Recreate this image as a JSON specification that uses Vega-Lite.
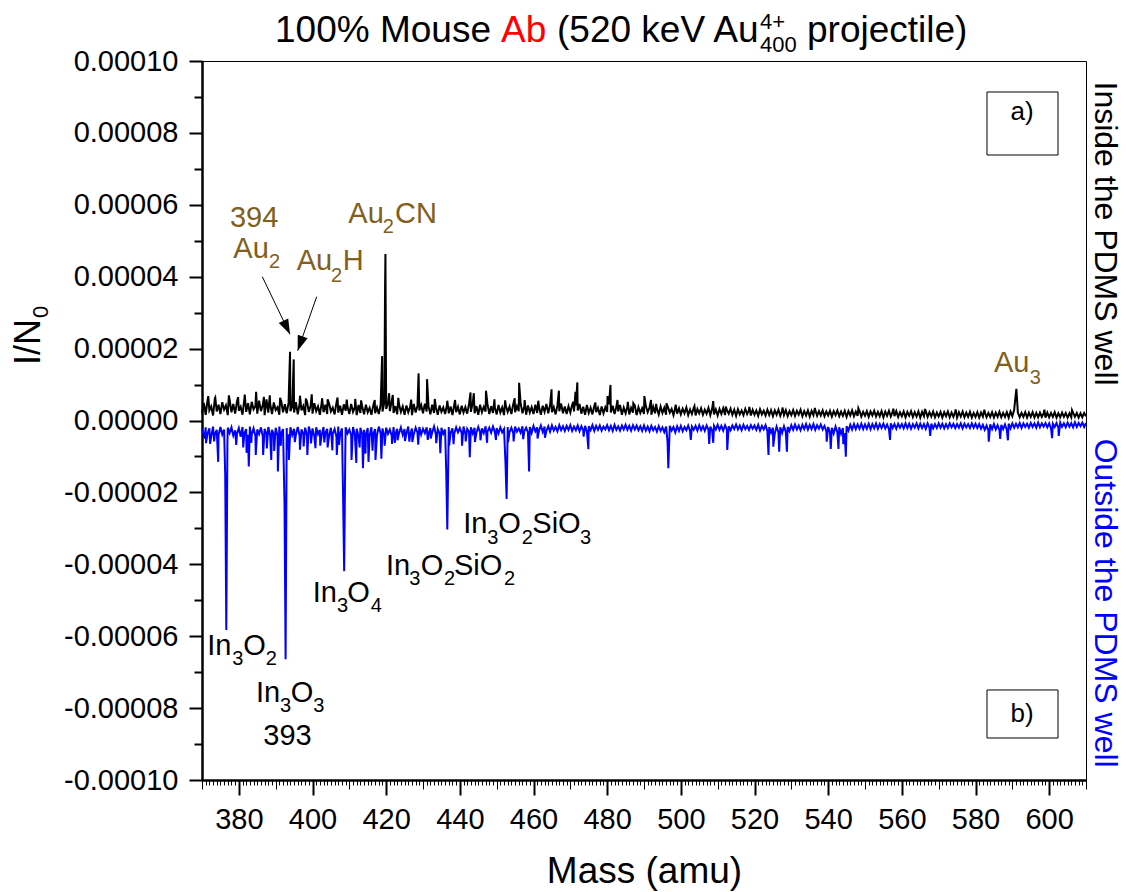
{
"$schema":"https://vega.github.io/schema/vega-lite/v6.json",
"width":884,"height":719,
"autosize":{"type":"none"},
"padding":{"left":202,"top":61,"right":40,"bottom":112},
"background":"white",
"config":{"view":{"stroke":"#000000","strokeWidth":1},"axis":{"grid":false,"domainColor":"#000000","tickColor":"#000000","labelColor":"#000000","titleColor":"#000000","labelFont":"Liberation Sans","titleFont":"Liberation Sans","titleFontWeight":"normal"},"text":{"font":"Liberation Sans"}},
"resolve":{"axis":{"x":"independent","y":"independent"}},
"datasets":{
"sp":[
{"m":370,"a":2.2e-6,"b":-2.4e-6},{"m":370.5,"a":4.9e-6,"b":-4.1e-6},{"m":371,"a":1.6e-6,"b":-1.9e-6},{"m":371.5,"a":5.6e-6,"b":-3.6e-6},{"m":372,"a":2.8e-6,"b":-2.2e-6},{"m":372.5,"a":3.9e-6,"b":-4.4e-6},{"m":373,"a":1.4e-6,"b":-1.7e-6},{"m":373.5,"a":6.2e-6,"b":-3.8e-6},{"m":374,"a":2.5e-6,"b":-2.6e-6},{"m":374.5,"a":4.4e-6,"b":-4e-6},
{"m":375,"a":1.8e-6,"b":-1.8e-6},{"m":375.5,"a":5.1e-6,"b":-3.9e-6},{"m":376,"a":3e-6,"b":-2.5e-6},{"m":376.5,"a":4.2e-6},{"m":377,"a":1.5e-6,"b":-2e-6},{"m":377.5,"a":5.7e-6,"b":-3.5e-6},{"m":378,"a":2.3e-6,"b":-1.9e-6},{"m":378.5,"a":4.6e-6,"b":-4.2e-6},{"m":379,"a":1.9e-6,"b":-2.7e-6},{"m":379.5,"a":5.3e-6,"b":-3.7e-6},
{"m":380,"a":2.7e-6,"b":-2.1e-6},{"m":380.5,"a":3.8e-6,"b":-4.5e-6},{"m":381,"a":1.6e-6,"b":-1.8e-6},{"m":381.5,"a":6e-6,"b":-3.6e-6},{"m":382,"a":2.4e-6,"b":-2.4e-6},{"m":382.5,"a":4.8e-6,"b":-4e-6},{"m":383,"a":1.7e-6,"b":-1.7e-6},{"m":383.5,"a":5.2e-6,"b":-3.9e-6},{"m":384,"a":3.1e-6,"b":-2.2e-6},{"m":384.5,"a":4e-6,"b":-4.3e-6},
{"m":385,"a":1.9e-6,"b":-2.5e-6},{"m":385.5,"a":5.5e-6,"b":-3.8e-6},{"m":386,"a":2.6e-6,"b":-1.9e-6},{"m":386.5,"a":4.3e-6,"b":-4.4e-6},{"m":387,"a":1.5e-6,"b":-2.3e-6},{"m":387.5,"a":5.9e-6,"b":-3.7e-6},{"m":388,"a":2.2e-6,"b":-1.8e-6},{"m":388.5,"a":4.7e-6,"b":-4.1e-6},{"m":389,"a":1.8e-6,"b":-2.6e-6},{"m":389.5,"a":5e-6,"b":-3.9e-6},
{"m":390,"a":2.9e-6,"b":-2e-6},{"m":390.5,"a":3.7e-6,"b":-4.2e-6},{"m":391,"a":1.6e-6,"b":-1.7e-6},{"m":391.5,"a":5.4e-6,"b":-3.6e-6},{"m":392,"a":2.3e-6,"b":-2.4e-6},{"m":392.5,"a":4.5e-6},{"m":393,"a":2e-6,"b":-2.1e-6},{"m":393.5,"a":4.9e-6,"b":-3.8e-6},{"m":394,"a":2.6e-6,"b":-1.9e-6},{"m":394.5,"a":3.8e-6,"b":-4e-6},
{"m":395,"a":2.2e-6,"b":-2.3e-6},{"m":395.5,"a":5.1e-6,"b":-3.9e-6},{"m":396,"a":1.7e-6,"b":-1.8e-6},{"m":396.5,"a":4.6e-6,"b":-4.3e-6},{"m":397,"a":2.8e-6,"b":-2.5e-6},{"m":397.5,"a":4e-6,"b":-3.7e-6},{"m":398,"a":1.5e-6,"b":-2e-6},{"m":398.5,"a":5.3e-6,"b":-4.1e-6},{"m":399,"a":2.4e-6,"b":-1.7e-6},{"m":399.5,"a":4.2e-6,"b":-3.6e-6},
{"m":400,"a":1.9e-6,"b":-2.2e-6},{"m":400.5,"a":4.8e-6,"b":-4.4e-6},{"m":401,"a":2.6e-6,"b":-1.9e-6},{"m":401.5,"a":3.9e-6,"b":-3.8e-6},{"m":402,"a":1.6e-6,"b":-2.6e-6},{"m":402.5,"a":5e-6,"b":-4e-6},{"m":403,"a":2.3e-6,"b":-1.8e-6},{"m":403.5,"a":4.4e-6,"b":-3.5e-6},{"m":404,"a":1.8e-6,"b":-2.3e-6},{"m":404.5,"a":4.7e-6,"b":-4.2e-6},
{"m":405,"a":2.5e-6,"b":-2e-6},{"m":405.5,"a":3.6e-6,"b":-3.7e-6},{"m":406,"a":1.7e-6,"b":-2.4e-6},{"m":406.5,"a":4.9e-6,"b":-4.5e-6},{"m":407,"a":2.2e-6,"b":-1.7e-6},{"m":407.5,"a":4.1e-6,"b":-3.9e-6},{"m":408,"a":1.6e-6,"b":-2.2e-6},{"m":408.5,"a":4.5e-6},{"m":409,"a":2.7e-6,"b":-1.9e-6},{"m":409.5,"a":3.8e-6,"b":-3.6e-6},
{"m":410,"a":1.8e-6,"b":-2.5e-6},{"m":410.5,"a":4.6e-6,"b":-4.1e-6},{"m":411,"a":2.4e-6,"b":-1.8e-6},{"m":411.5,"a":3.7e-6,"b":-3.9e-6},{"m":412,"a":1.5e-6,"b":-2.3e-6},{"m":412.5,"a":4.3e-6,"b":-4.4e-6},{"m":413,"a":2.1e-6,"b":-2e-6},{"m":413.5,"a":3.9e-6,"b":-3.7e-6},{"m":414,"a":1.7e-6,"b":-2.6e-6},{"m":414.5,"a":4.4e-6,"b":-4e-6},
{"m":415,"a":2.3e-6,"b":-2.1e-6},{"m":415.5,"a":3.5e-6,"b":-4.3e-6},{"m":416,"a":1.6e-6,"b":-1.9e-6},{"m":416.5,"a":4.2e-6,"b":-3.8e-6},{"m":417,"a":2e-6,"b":-2.4e-6},{"m":417.5,"a":3.6e-6,"b":-4.1e-6},{"m":418,"a":1.8e-6,"b":-1.7e-6},{"m":418.5,"a":4.4e-6,"b":-3.6e-6},{"m":419,"a":2.5e-6,"b":-2.2e-6},{"m":419.5,"a":5e-6,"b":-4.4e-6},
{"m":420,"a":3.2e-6,"b":-2e-6},{"m":420.5,"a":4.8e-6,"b":-3.7e-6},{"m":421,"a":2.6e-6,"b":-2.5e-6},{"m":421.5,"a":5.3e-6,"b":-4.2e-6},{"m":422,"a":2.1e-6,"b":-1.8e-6},{"m":422.5,"a":4e-6,"b":-3.9e-6},{"m":423,"a":1.7e-6,"b":-2.3e-6},{"m":423.5,"a":4.5e-6,"b":-3.5e-6},{"m":424,"a":2.4e-6,"b":-1.9e-6},{"m":424.5,"a":3.9e-6,"b":-4e-6},
{"m":425,"a":1.6e-6,"b":-2.4e-6},{"m":425.5,"a":4.2e-6,"b":-3.6e-6},{"m":426,"a":2.3e-6,"b":-1.7e-6},{"m":426.5,"a":3.8e-6,"b":-4.1e-6},{"m":427,"a":1.5e-6,"b":-2.2e-6},{"m":427.5,"a":4.6e-6,"b":-3.8e-6},{"m":428,"a":2.2e-6,"b":-2e-6},{"m":428.5,"a":4.1e-6,"b":-3.4e-6},{"m":429,"a":2.8e-6,"b":-1.8e-6},{"m":429.5,"a":4.3e-6,"b":-3.9e-6},
{"m":430,"a":2e-6,"b":-2.3e-6},{"m":430.5,"a":4.7e-6,"b":-3.5e-6},{"m":431,"a":2.5e-6,"b":-1.9e-6},{"m":431.5,"a":3.9e-6,"b":-3.8e-6},{"m":432,"a":1.7e-6,"b":-2.1e-6},{"m":432.5,"a":4.4e-6,"b":-3.3e-6},{"m":433,"a":2.1e-6,"b":-1.7e-6},{"m":433.5,"a":3.7e-6,"b":-3.9e-6},{"m":434,"a":1.6e-6,"b":-2.4e-6},{"m":434.5,"a":4.2e-6,"b":-3.6e-6},
{"m":435,"a":2.4e-6,"b":-2e-6},{"m":435.5,"a":3.6e-6,"b":-3.7e-6},{"m":436,"a":1.8e-6,"b":-2.5e-6},{"m":436.5,"a":4.3e-6},{"m":437,"a":2e-6,"b":-1.8e-6},{"m":437.5,"a":3.9e-6,"b":-3.4e-6},{"m":438,"a":1.5e-6,"b":-2.2e-6},{"m":438.5,"a":4.5e-6,"b":-3.6e-6},{"m":439,"a":2.3e-6,"b":-1.9e-6},{"m":439.5,"a":3.8e-6,"b":-3.3e-6},
{"m":440,"a":1.7e-6,"b":-2.1e-6},{"m":440.5,"a":4.1e-6,"b":-3.5e-6},{"m":441,"a":2.2e-6,"b":-1.7e-6},{"m":441.5,"a":3.7e-6,"b":-3.7e-6},{"m":442,"a":1.9e-6,"b":-2.3e-6},{"m":442.5,"a":4.6e-6,"b":-3.2e-6},{"m":443,"a":2.4e-6,"b":-1.9e-6},{"m":443.5,"a":4.9e-6,"b":-3.6e-6},{"m":444,"a":2e-6,"b":-2e-6},{"m":444.5,"a":4e-6,"b":-3.4e-6},
{"m":445,"a":1.6e-6,"b":-1.8e-6},{"m":445.5,"a":4.4e-6,"b":-3.3e-6},{"m":446,"a":2.3e-6,"b":-2.2e-6},{"m":446.5,"a":3.8e-6,"b":-3.5e-6},{"m":447,"a":2.5e-6,"b":-1.6e-6},{"m":447.5,"a":4.6e-6,"b":-3.1e-6},{"m":448,"a":1.8e-6,"b":-2e-6},{"m":448.5,"a":4e-6,"b":-3.4e-6},{"m":449,"a":2.1e-6,"b":-1.7e-6},{"m":449.5,"a":3.7e-6,"b":-3.2e-6},
{"m":450,"a":1.7e-6,"b":-2.1e-6},{"m":450.5,"a":4.3e-6,"b":-3.6e-6},{"m":451,"a":2.2e-6,"b":-1.9e-6},{"m":451.5,"a":3.6e-6,"b":-3.3e-6},{"m":452,"a":1.5e-6,"b":-2.4e-6},{"m":452.5,"a":4.1e-6},{"m":453,"a":2.4e-6,"b":-1.8e-6},{"m":453.5,"a":3.9e-6,"b":-3.2e-6},{"m":454,"a":1.8e-6,"b":-2e-6},{"m":454.5,"a":4.5e-6,"b":-3.5e-6},
{"m":455,"a":2.3e-6,"b":-1.7e-6},{"m":455.5,"a":4e-6,"b":-3.1e-6},{"m":456,"a":2.6e-6,"b":-2.2e-6},{"m":456.5,"a":4.8e-6,"b":-3.4e-6},{"m":457,"a":2e-6,"b":-1.6e-6},{"m":457.5,"a":3.9e-6,"b":-3e-6},{"m":458,"a":1.6e-6,"b":-2e-6},{"m":458.5,"a":4.2e-6,"b":-3.3e-6},{"m":459,"a":2.2e-6,"b":-1.8e-6},{"m":459.5,"a":3.7e-6,"b":-3.5e-6},
{"m":460,"a":1.8e-6,"b":-1.5e-6},{"m":460.5,"a":4.4e-6,"b":-3e-6},{"m":461,"a":2.1e-6,"b":-1.9e-6},{"m":461.5,"a":3.8e-6,"b":-2.8e-6},{"m":462,"a":1.6e-6,"b":-1.4e-6},{"m":462.5,"a":4.1e-6,"b":-3.2e-6},{"m":463,"a":2.4e-6,"b":-1.7e-6},{"m":463.5,"a":4.6e-6,"b":-2.9e-6},{"m":464,"a":2e-6,"b":-1.6e-6},{"m":464.5,"a":4.3e-6,"b":-3.1e-6},
{"m":465,"a":2.3e-6,"b":-1.4e-6},{"m":465.5,"a":3.7e-6,"b":-2.8e-6},{"m":466,"a":1.7e-6,"b":-1.8e-6},{"m":466.5,"a":4.2e-6,"b":-3e-6},{"m":467,"a":2.6e-6,"b":-1.3e-6},{"m":467.5,"a":4.7e-6,"b":-2.7e-6},{"m":468,"a":2e-6,"b":-1.6e-6},{"m":468.5,"a":3.9e-6,"b":-2.9e-6},{"m":469,"a":1.8e-6,"b":-1.5e-6},{"m":469.5,"a":4e-6,"b":-2.6e-6},
{"m":470,"a":2.2e-6,"b":-1.3e-6},{"m":470.5,"a":4.4e-6,"b":-2.9e-6},{"m":471,"a":2.5e-6,"b":-1.7e-6},{"m":471.5,"a":4.1e-6,"b":-2.7e-6},{"m":472,"a":2.8e-6,"b":-1.4e-6},{"m":472.5,"a":4.6e-6,"b":-3e-6},{"m":473,"a":1.9e-6,"b":-1.6e-6},{"m":473.5,"a":3.8e-6,"b":-2.8e-6},{"m":474,"a":1.6e-6,"b":-1.5e-6},{"m":474.5,"a":4.3e-6,"b":-3.1e-6},
{"m":475,"a":2.1e-6,"b":-1.6e-6},{"m":475.5,"a":3.6e-6,"b":-2.7e-6},{"m":476,"a":1.7e-6,"b":-1.3e-6},{"m":476.5,"a":4e-6,"b":-2.9e-6},{"m":477,"a":2.3e-6,"b":-1.5e-6},{"m":477.5,"a":3.5e-6,"b":-2.6e-6},{"m":478,"a":1.5e-6,"b":-1.4e-6},{"m":478.5,"a":3.9e-6,"b":-2.8e-6},{"m":479,"a":2e-6,"b":-1.7e-6},{"m":479.5,"a":3.7e-6,"b":-2.5e-6},
{"m":480,"a":2.4e-6,"b":-1.3e-6},{"m":480.5,"a":4.5e-6,"b":-2.7e-6},{"m":481,"a":2.2e-6,"b":-1.5e-6},{"m":481.5,"a":4.1e-6,"b":-2.9e-6},{"m":482,"a":1.8e-6,"b":-1.2e-6},{"m":482.5,"a":3.8e-6,"b":-2.6e-6},{"m":483,"a":2.5e-6,"b":-1.6e-6},{"m":483.5,"a":4.3e-6,"b":-2.8e-6},{"m":484,"a":1.6e-6,"b":-1.4e-6},{"m":484.5,"a":3.6e-6,"b":-2.5e-6},
{"m":485,"a":2e-6,"b":-1.2e-6},{"m":485.5,"a":3.9e-6,"b":-2.6e-6},{"m":486,"a":1.7e-6,"b":-1.5e-6},{"m":486.5,"a":3.5e-6,"b":-2.8e-6},{"m":487,"a":2.2e-6,"b":-1.3e-6},{"m":487.5,"a":4.2e-6,"b":-2.5e-6},{"m":488,"a":1.5e-6,"b":-1.4e-6},{"m":488.5,"a":3.7e-6,"b":-2.7e-6},{"m":489,"a":2.1e-6,"b":-1.6e-6},{"m":489.5,"a":3.4e-6,"b":-2.9e-6},
{"m":490,"a":1.8e-6,"b":-1.4e-6},{"m":490.5,"a":4e-6,"b":-2.8e-6},{"m":491,"a":2.3e-6,"b":-1.7e-6},{"m":491.5,"a":3.6e-6,"b":-3e-6},{"m":492,"a":1.6e-6,"b":-1.5e-6},{"m":492.5,"a":3.8e-6,"b":-2.7e-6},{"m":493,"a":2e-6,"b":-1.8e-6},{"m":493.5,"a":3.3e-6,"b":-3.1e-6},{"m":494,"a":1.7e-6,"b":-1.6e-6},{"m":494.5,"a":3.9e-6,"b":-2.9e-6},
{"m":495,"a":2.1e-6,"b":-1.9e-6},{"m":495.5,"a":3.5e-6,"b":-3.2e-6},{"m":496,"a":1.6e-6,"b":-1.7e-6},{"m":496.5,"a":3.7e-6},{"m":497,"a":2.2e-6,"b":-1.5e-6},{"m":497.5,"a":3.2e-6,"b":-2.8e-6},{"m":498,"a":1.5e-6,"b":-1.8e-6},{"m":498.5,"a":3.6e-6,"b":-3.3e-6},{"m":499,"a":1.9e-6,"b":-1.6e-6},{"m":499.5,"a":3.4e-6,"b":-2.9e-6},
{"m":500,"a":1.7e-6,"b":-1.5e-6},{"m":500.5,"a":3.3e-6,"b":-3e-6},{"m":501,"a":2e-6,"b":-1.8e-6},{"m":501.5,"a":3.6e-6,"b":-2.7e-6},{"m":502,"a":1.5e-6,"b":-1.4e-6},{"m":502.5,"a":3.1e-6,"b":-2.9e-6},{"m":503,"a":1.8e-6,"b":-1.7e-6},{"m":503.5,"a":3.5e-6,"b":-2.6e-6},{"m":504,"a":1.4e-6,"b":-1.5e-6},{"m":504.5,"a":3.2e-6,"b":-2.8e-6},
{"m":505,"a":2e-6,"b":-1.3e-6},{"m":505.5,"a":3.4e-6,"b":-2.7e-6},{"m":506,"a":1.6e-6,"b":-1.6e-6},{"m":506.5,"a":3e-6,"b":-2.9e-6},{"m":507,"a":1.9e-6,"b":-1.4e-6},{"m":507.5,"a":3.5e-6,"b":-2.6e-6},{"m":508,"a":1.5e-6,"b":-1.7e-6},{"m":508.5,"a":3.3e-6,"b":-2.8e-6},{"m":509,"a":1.7e-6,"b":-1.5e-6},{"m":509.5,"a":3.1e-6,"b":-2.5e-6},
{"m":510,"a":1.4e-6,"b":-1.2e-6},{"m":510.5,"a":3.2e-6,"b":-2.6e-6},{"m":511,"a":1.8e-6,"b":-1.5e-6},{"m":511.5,"a":3.4e-6,"b":-2.8e-6},{"m":512,"a":1.5e-6,"b":-1.3e-6},{"m":512.5,"a":2.9e-6,"b":-2.5e-6},{"m":513,"a":1.9e-6,"b":-1.6e-6},{"m":513.5,"a":3.3e-6,"b":-2.7e-6},{"m":514,"a":1.6e-6,"b":-1.4e-6},{"m":514.5,"a":3e-6,"b":-2.4e-6},
{"m":515,"a":1.3e-6,"b":-1.1e-6},{"m":515.5,"a":3.1e-6,"b":-2.5e-6},{"m":516,"a":1.7e-6,"b":-1.4e-6},{"m":516.5,"a":2.8e-6,"b":-2.7e-6},{"m":517,"a":1.5e-6,"b":-1.2e-6},{"m":517.5,"a":3.2e-6,"b":-2.4e-6},{"m":518,"a":1.8e-6,"b":-1.5e-6},{"m":518.5,"a":2.9e-6,"b":-2.6e-6},{"m":519,"a":1.4e-6,"b":-1.3e-6},{"m":519.5,"a":3e-6,"b":-2.3e-6},
{"m":520,"a":1.6e-6,"b":-1.4e-6},{"m":520.5,"a":2.8e-6,"b":-2.6e-6},{"m":521,"a":1.3e-6,"b":-1.2e-6},{"m":521.5,"a":3.1e-6,"b":-2.8e-6},{"m":522,"a":1.7e-6,"b":-1.5e-6},{"m":522.5,"a":2.7e-6,"b":-2.5e-6},{"m":523,"a":1.4e-6,"b":-1.3e-6},{"m":523.5,"a":3e-6,"b":-3e-6},{"m":524,"a":1.5e-6,"b":-1.8e-6},{"m":524.5,"a":2.9e-6,"b":-3.4e-6},
{"m":525,"a":1.2e-6,"b":-2e-6},{"m":525.5,"a":2.8e-6,"b":-3.6e-6},{"m":526,"a":1.6e-6,"b":-1.7e-6},{"m":526.5,"a":3e-6,"b":-3.3e-6},{"m":527,"a":1.3e-6,"b":-1.9e-6},{"m":527.5,"a":2.7e-6,"b":-3.5e-6},{"m":528,"a":1.5e-6,"b":-1.6e-6},{"m":528.5,"a":2.9e-6,"b":-3.2e-6},{"m":529,"a":1.2e-6,"b":-1.8e-6},{"m":529.5,"a":2.6e-6,"b":-2.9e-6},
{"m":530,"a":1.5e-6,"b":-1.3e-6},{"m":530.5,"a":2.9e-6,"b":-2.6e-6},{"m":531,"a":1.3e-6,"b":-1.1e-6},{"m":531.5,"a":2.7e-6,"b":-2.5e-6},{"m":532,"a":1.6e-6,"b":-1.4e-6},{"m":532.5,"a":3e-6,"b":-2.7e-6},{"m":533,"a":1.2e-6,"b":-1.2e-6},{"m":533.5,"a":2.6e-6,"b":-2.4e-6},{"m":534,"a":1.4e-6,"b":-1e-6},{"m":534.5,"a":2.8e-6,"b":-2.5e-6},
{"m":535,"a":1.1e-6,"b":-1.2e-6},{"m":535.5,"a":2.7e-6,"b":-2.4e-6},{"m":536,"a":1.5e-6,"b":-1e-6},{"m":536.5,"a":2.9e-6,"b":-2.6e-6},{"m":537,"a":1.3e-6,"b":-1.3e-6},{"m":537.5,"a":2.6e-6,"b":-2.3e-6},{"m":538,"a":1.4e-6,"b":-1.1e-6},{"m":538.5,"a":2.8e-6,"b":-2.5e-6},{"m":539,"a":1.2e-6,"b":-1.5e-6},{"m":539.5,"a":2.5e-6,"b":-2.9e-6},
{"m":540,"a":1.4e-6,"b":-1.8e-6},{"m":540.5,"a":2.7e-6,"b":-3.4e-6},{"m":541,"a":1.1e-6,"b":-2e-6},{"m":541.5,"a":2.6e-6,"b":-3.6e-6},{"m":542,"a":1.5e-6,"b":-1.7e-6},{"m":542.5,"a":2.8e-6,"b":-3.3e-6},{"m":543,"a":1.2e-6,"b":-1.9e-6},{"m":543.5,"a":2.5e-6,"b":-3.7e-6},{"m":544,"a":1.3e-6,"b":-2.1e-6},{"m":544.5,"a":2.7e-6,"b":-3.5e-6},
{"m":545,"a":1e-6,"b":-1.6e-6},{"m":545.5,"a":2.6e-6,"b":-2.8e-6},{"m":546,"a":1.4e-6,"b":-1.2e-6},{"m":546.5,"a":2.8e-6,"b":-2.5e-6},{"m":547,"a":1.2e-6,"b":-1e-6},{"m":547.5,"a":2.5e-6,"b":-2.4e-6},{"m":548,"a":1.3e-6,"b":-1.1e-6},{"m":548.5,"a":2.7e-6,"b":-2.3e-6},{"m":549,"a":1.1e-6,"b":-0.9e-6},{"m":549.5,"a":2.4e-6,"b":-2.4e-6},
{"m":550,"a":1.3e-6,"b":-1.1e-6},{"m":550.5,"a":2.6e-6,"b":-2.3e-6},{"m":551,"a":1e-6,"b":-0.9e-6},{"m":551.5,"a":2.5e-6,"b":-2.4e-6},{"m":552,"a":1.4e-6,"b":-1e-6},{"m":552.5,"a":2.7e-6,"b":-2.2e-6},{"m":553,"a":1.1e-6,"b":-0.8e-6},{"m":553.5,"a":2.4e-6,"b":-2.3e-6},{"m":554,"a":1.2e-6,"b":-1e-6},{"m":554.5,"a":2.6e-6,"b":-2.1e-6},
{"m":555,"a":0.9e-6,"b":-0.9e-6},{"m":555.5,"a":2.5e-6,"b":-2.2e-6},{"m":556,"a":1.3e-6,"b":-1.1e-6},{"m":556.5,"a":2.7e-6,"b":-2.4e-6},{"m":557,"a":1.1e-6,"b":-0.8e-6},{"m":557.5,"a":2.4e-6,"b":-2.1e-6},{"m":558,"a":1.2e-6,"b":-1e-6},{"m":558.5,"a":2.6e-6,"b":-2.3e-6},{"m":559,"a":1e-6,"b":-0.9e-6},{"m":559.5,"a":2.3e-6,"b":-2e-6},
{"m":560,"a":1.2e-6,"b":-1e-6},{"m":560.5,"a":2.5e-6,"b":-2.2e-6},{"m":561,"a":0.9e-6,"b":-0.8e-6},{"m":561.5,"a":2.4e-6,"b":-2.1e-6},{"m":562,"a":1.3e-6,"b":-0.9e-6},{"m":562.5,"a":2.6e-6,"b":-2.3e-6},{"m":563,"a":1e-6,"b":-1e-6},{"m":563.5,"a":2.3e-6,"b":-2e-6},{"m":564,"a":1.1e-6,"b":-0.8e-6},{"m":564.5,"a":2.5e-6,"b":-2.2e-6},
{"m":565,"a":0.8e-6,"b":-0.9e-6},{"m":565.5,"a":2.4e-6,"b":-2.1e-6},{"m":566,"a":1.2e-6,"b":-1e-6},{"m":566.5,"a":2.6e-6,"b":-2.3e-6},{"m":567,"a":1e-6,"b":-0.8e-6},{"m":567.5,"a":2.3e-6,"b":-2e-6},{"m":568,"a":1.1e-6,"b":-0.9e-6},{"m":568.5,"a":2.5e-6,"b":-2.2e-6},{"m":569,"a":0.9e-6,"b":-1e-6},{"m":569.5,"a":2.2e-6,"b":-2.1e-6},
{"m":570,"a":1.1e-6,"b":-0.8e-6},{"m":570.5,"a":2.4e-6,"b":-2e-6},{"m":571,"a":0.8e-6,"b":-0.9e-6},{"m":571.5,"a":2.3e-6,"b":-2.2e-6},{"m":572,"a":1.2e-6,"b":-1e-6},{"m":572.5,"a":2.5e-6,"b":-2.1e-6},{"m":573,"a":0.9e-6,"b":-0.8e-6},{"m":573.5,"a":2.2e-6,"b":-1.9e-6},{"m":574,"a":1e-6,"b":-0.9e-6},{"m":574.5,"a":2.4e-6,"b":-2.1e-6},
{"m":575,"a":0.8e-6,"b":-1e-6},{"m":575.5,"a":2.3e-6,"b":-2e-6},{"m":576,"a":1.1e-6,"b":-0.8e-6},{"m":576.5,"a":2.5e-6,"b":-2.2e-6},{"m":577,"a":0.9e-6,"b":-0.9e-6},{"m":577.5,"a":2.2e-6,"b":-1.9e-6},{"m":578,"a":1e-6,"b":-1e-6},{"m":578.5,"a":2.4e-6,"b":-2.1e-6},{"m":579,"a":0.8e-6,"b":-0.8e-6},{"m":579.5,"a":2.1e-6,"b":-2e-6},
{"m":580,"a":1e-6,"b":-0.9e-6},{"m":580.5,"a":2.3e-6,"b":-2.1e-6},{"m":581,"a":0.8e-6,"b":-1e-6},{"m":581.5,"a":2.2e-6,"b":-2.3e-6},{"m":582,"a":1.1e-6,"b":-1.2e-6},{"m":582.5,"a":2.4e-6,"b":-2.6e-6},{"m":583,"a":0.9e-6,"b":-1.4e-6},{"m":583.5,"a":2.1e-6,"b":-2.8e-6},{"m":584,"a":1e-6,"b":-1.1e-6},{"m":584.5,"a":2.3e-6,"b":-2.4e-6},
{"m":585,"a":0.8e-6,"b":-1e-6},{"m":585.5,"a":2.2e-6,"b":-2.5e-6},{"m":586,"a":1e-6,"b":-1.3e-6},{"m":586.5,"a":2.4e-6,"b":-2.7e-6},{"m":587,"a":0.9e-6,"b":-1.2e-6},{"m":587.5,"a":2.1e-6,"b":-2.4e-6},{"m":588,"a":1e-6,"b":-1.1e-6},{"m":588.5,"a":2.3e-6,"b":-2.6e-6},{"m":589,"a":0.8e-6,"b":-0.9e-6},{"m":589.5,"a":2.5e-6,"b":-2.2e-6},
{"m":590,"a":1.2e-6,"b":-0.8e-6},{"m":590.5,"a":3e-6,"b":-2e-6},{"m":591,"b":-0.9e-6},{"m":591.5,"a":2.2e-6,"b":-1.9e-6},{"m":592,"a":0.9e-6,"b":-0.7e-6},{"m":592.5,"a":2.1e-6,"b":-2.1e-6},{"m":593,"a":1e-6,"b":-0.8e-6},{"m":593.5,"a":2.3e-6,"b":-1.8e-6},{"m":594,"a":0.8e-6,"b":-0.9e-6},{"m":594.5,"a":2.2e-6,"b":-2e-6},
{"m":595,"a":1e-6,"b":-0.7e-6},{"m":595.5,"a":2.3e-6,"b":-1.8e-6},{"m":596,"a":0.8e-6,"b":-0.8e-6},{"m":596.5,"a":2.1e-6,"b":-2e-6},{"m":597,"a":0.9e-6,"b":-0.6e-6},{"m":597.5,"a":2.2e-6,"b":-1.9e-6},{"m":598,"a":1e-6,"b":-0.8e-6},{"m":598.5,"a":2e-6,"b":-1.7e-6},{"m":599,"a":0.8e-6,"b":-0.7e-6},{"m":599.5,"a":2.2e-6,"b":-1.9e-6},
{"m":600,"a":0.9e-6,"b":-0.8e-6},{"m":600.5,"a":2.1e-6,"b":-2.2e-6},{"m":601,"a":1e-6,"b":-0.9e-6},{"m":601.5,"a":2.3e-6,"b":-1.8e-6},{"m":602,"a":0.8e-6,"b":-0.7e-6},{"m":602.5,"a":2e-6,"b":-2e-6},{"m":603,"a":0.9e-6,"b":-0.6e-6},{"m":603.5,"a":2.2e-6,"b":-1.8e-6},{"m":604,"a":1e-6,"b":-0.8e-6},{"m":604.5,"a":2.1e-6,"b":-1.9e-6},
{"m":605,"a":0.8e-6,"b":-0.6e-6},{"m":605.5,"a":2e-6,"b":-1.7e-6},{"m":606,"a":0.9e-6,"b":-0.7e-6},{"m":606.5,"a":2.2e-6,"b":-1.9e-6},{"m":607,"a":1e-6,"b":-0.5e-6},{"m":607.5,"a":2.1e-6,"b":-1.8e-6},{"m":608,"a":0.8e-6,"b":-0.7e-6},{"m":608.5,"a":2e-6,"b":-1.6e-6},{"m":609,"a":0.9e-6,"b":-0.6e-6},{"m":609.5,"a":2.1e-6,"b":-1.8e-6},
{"m":610,"a":1.2e-6,"b":-0.7e-6},
{"m":371.7,"a":6.8e-6},{"m":373.6,"a":6.4e-6},{"m":377.3,"a":7e-6},{"m":379.8,"a":6.5e-6},{"m":381.6,"a":7.2e-6},{"m":384.7,"a":8e-6},{"m":386.8,"a":6.6e-6},{"m":388.4,"a":7e-6},{"m":391.2,"a":6.3e-6},{"m":393.9,"a":1.91e-5},{"m":394.9,"a":1.7e-5},{"m":396.6,"a":6.9e-6},{"m":398.2,"a":6.1e-6},{"m":399.8,"a":7.3e-6},{"m":402.6,"a":6.2e-6},{"m":404.1,"a":5.9e-6},{"m":406.8,"a":6.4e-6},{"m":409.3,"a":5.8e-6},{"m":411.6,"a":6e-6},{"m":413.2,"a":5.6e-6},{"m":416.9,"a":5.7e-6},{"m":418.9,"a":1.79e-5},{"m":419.7,"a":3.7e-5},{"m":419.8,"a":4.63e-5},{"m":420.8,"a":7.6e-6},{"m":421.8,"a":7.1e-6},{"m":423.3,"a":6.3e-6},{"m":426.8,"a":5.8e-6},{"m":428.8,"a":1.31e-5},{"m":431.1,"a":1.15e-5},{"m":433.2,"a":6e-6},{"m":436.6,"a":5.5e-6},{"m":438.7,"a":5.7e-6},{"m":442.9,"a":7.8e-6},{"m":443.8,"a":7.6e-6},{"m":447.1,"a":8.3e-6},{"m":449.4,"a":5.9e-6},{"m":452.3,"a":5.6e-6},{"m":454.9,"a":6.2e-6},{"m":456.1,"a":1.05e-5},{"m":457.6,"a":5.7e-6},{"m":461.3,"a":5.5e-6},{"m":464.9,"a":8.7e-6},{"m":466.9,"a":8.3e-6},{"m":470.8,"a":5.2e-6},{"m":471.4,"a":8e-6},{"m":471.9,"a":1.06e-5},{"m":476.8,"a":5e-6},{"m":480.1,"a":6.8e-6},{"m":480.9,"a":9.9e-6},{"m":482.8,"a":5.7e-6},{"m":485.6,"a":5.2e-6},{"m":487.1,"a":4.8e-6},{"m":490.1,"a":6.8e-6},{"m":491.9,"a":5.7e-6},{"m":493.3,"a":4.6e-6},{"m":496.1,"a":4.8e-6},{"m":498.6,"a":4.4e-6},{"m":503.7,"a":4e-6},{"m":508.8,"a":5.4e-6},{"m":512.2,"a":3.9e-6},{"m":518.6,"a":3.8e-6},{"m":527.6,"a":3.6e-6},{"m":536.4,"a":3.5e-6},{"m":548.2,"a":3.4e-6},{"m":557.7,"a":3.3e-6},{"m":566.3,"a":3.2e-6},{"m":574.6,"a":3.1e-6},{"m":582.4,"a":3e-6},{"m":590.8,"a":6e-6},{"m":591.1,"a":8.8e-6},{"m":598.7,"a":3e-6},{"m":606.2,"a":2.9e-6},
{"m":370.7,"b":-5e-6},{"m":371.1,"b":-6.3e-6},{"m":372.2,"b":-6.5e-6},{"m":373.3,"b":-5.8e-6},{"m":374.4,"b":-1.15e-5},{"m":376.3,"b":-1.5e-5},{"m":376.6,"b":-5.83e-5},{"m":376.9,"b":-6.5e-6},{"m":379.3,"b":-6.8e-6},{"m":381.2,"b":-7.5e-6},{"m":382.1,"b":-9e-6},{"m":382.7,"b":-1.28e-5},{"m":383.4,"b":-6.2e-6},{"m":384.6,"b":-9.6e-6},{"m":386.6,"b":-9.6e-6},{"m":387.6,"b":-7.8e-6},{"m":388.8,"b":-1.1e-5},{"m":389.6,"b":-8.5e-6},{"m":390.6,"b":-1.42e-5},{"m":391.4,"b":-7e-6},{"m":392.4,"b":-2.3e-5},{"m":392.7,"b":-6.64e-5},{"m":393.1,"b":-8e-6},{"m":393.6,"b":-1.1e-5},{"m":395.2,"b":-6e-6},{"m":396.6,"b":-8.1e-6},{"m":397.6,"b":-7.2e-6},{"m":398.6,"b":-9.6e-6},{"m":399.6,"b":-6.4e-6},{"m":400.8,"b":-7.7e-6},{"m":402.1,"b":-7e-6},{"m":403.2,"b":-6.1e-6},{"m":404.1,"b":-7.5e-6},{"m":405.4,"b":-8.3e-6},{"m":406.6,"b":-9.6e-6},{"m":407.2,"b":-6.8e-6},{"m":408.3,"b":-2.1e-5},{"m":408.6,"b":-4.19e-5},{"m":408.9,"b":-9e-6},{"m":410.6,"b":-1.1e-5},{"m":411.9,"b":-1.18e-5},{"m":412.8,"b":-7.5e-6},{"m":413.7,"b":-1.33e-5},{"m":414.4,"b":-9.2e-6},{"m":415.2,"b":-1.15e-5},{"m":416.3,"b":-8.4e-6},{"m":417.1,"b":-1.1e-5},{"m":418.7,"b":-1.06e-5},{"m":419.6,"b":-7e-6},{"m":421.6,"b":-6.5e-6},{"m":422.4,"b":-6.2e-6},{"m":423.1,"b":-5.5e-6},{"m":425.1,"b":-5.7e-6},{"m":426.3,"b":-5.9e-6},{"m":427.1,"b":-6e-6},{"m":428.7,"b":-6.7e-6},{"m":431.3,"b":-5.4e-6},{"m":432.1,"b":-5e-6},{"m":433.6,"b":-6.3e-6},{"m":434.7,"b":-9.1e-6},{"m":436.3,"b":-1.4e-5},{"m":436.6,"b":-3.03e-5},{"m":437.1,"b":-7e-6},{"m":438.3,"b":-6.6e-6},{"m":440.6,"b":-7e-6},{"m":441.6,"b":-5.8e-6},{"m":442.7,"b":-1.02e-5},{"m":444.1,"b":-6e-6},{"m":445.6,"b":-5.5e-6},{"m":447.4,"b":-6.2e-6},{"m":449.8,"b":-5.4e-6},{"m":452.4,"b":-1.2e-5},{"m":452.7,"b":-2.18e-5},{"m":453.1,"b":-6e-6},{"m":454.6,"b":-5.8e-6},{"m":457.2,"b":-5.2e-6},{"m":458.8,"b":-1.42e-5},{"m":461.1,"b":-5e-6},{"m":463.1,"b":-4.8e-6},{"m":473.6,"b":-4.5e-6},{"m":474.9,"b":-8e-6},{"m":496.4,"b":-6e-6},{"m":496.6,"b":-1.33e-5},{"m":502.7,"b":-5.4e-6},{"m":507.7,"b":-6.5e-6},{"m":508.8,"b":-6.2e-6},{"m":512.6,"b":-8.2e-6},{"m":523.8,"b":-9.6e-6},{"m":525.1,"b":-7.3e-6},{"m":526.7,"b":-8.7e-6},{"m":528.8,"b":-8.7e-6},{"m":539.6,"b":-5.9e-6},{"m":540.7,"b":-7.9e-6},{"m":542.8,"b":-7.9e-6},{"m":544.1,"b":-6.6e-6},{"m":544.8,"b":-1.01e-5},{"m":556.8,"b":-5.4e-6},{"m":567.7,"b":-4.3e-6},{"m":583.6,"b":-5.9e-6},{"m":586.7,"b":-5.1e-6},{"m":588.8,"b":-5.5e-6},{"m":600.8,"b":-4.9e-6},{"m":602.6,"b":-4.3e-6}
],
"lab":[
{"m":377.6,"v":5.39e-5,"t":"394","g":"au"},{"m":378.5,"v":4.512e-5,"t":"Au","g":"au"},{"m":395.71,"v":4.186e-5,"t":"Au","g":"au"},{"m":408.2,"v":4.186e-5,"t":"H","g":"au"},{"m":409.72,"v":5.485e-5,"t":"Au","g":"au"},{"m":422.4,"v":5.485e-5,"t":"CN","g":"au"},{"m":585.02,"v":1.341e-5,"t":"Au","g":"au"},
{"m":371.44,"v":-6.523e-5,"t":"In","g":"k"},{"m":381.21,"v":-6.523e-5,"t":"O","g":"k"},
{"m":384.66,"v":-7.822e-5,"t":"In","g":"k"},{"m":394.08,"v":-7.822e-5,"t":"O","g":"k"},
{"m":386.64,"v":-9.026e-5,"t":"393","g":"k"},
{"m":400.05,"v":-5.04e-5,"t":"In","g":"k"},{"m":409.45,"v":-5.04e-5,"t":"O","g":"k"},
{"m":419.95,"v":-4.298e-5,"t":"In","g":"k"},{"m":429.38,"v":-4.298e-5,"t":"O","g":"k"},{"m":438.42,"v":-4.298e-5,"t":"SiO","g":"k"},
{"m":440.94,"v":-3.138e-5,"t":"In","g":"k"},{"m":450.44,"v":-3.138e-5,"t":"O","g":"k"},{"m":459.67,"v":-3.138e-5,"t":"SiO","g":"k"}
],
"sub":[
{"m":388.19,"v":4.234e-5,"t":"2","g":"au"},{"m":405.02,"v":3.861e-5,"t":"2","g":"au"},{"m":419.06,"v":5.207e-5,"t":"2","g":"au"},{"m":594.7,"v":1.007e-5,"t":"3","g":"au"},
{"m":378.23,"v":-6.801e-5,"t":"3","g":"k"},{"m":387.29,"v":-6.801e-5,"t":"2","g":"k"},
{"m":391.18,"v":-8.1e-5,"t":"3","g":"k"},{"m":400.22,"v":-8.1e-5,"t":"3","g":"k"},
{"m":406.65,"v":-5.318e-5,"t":"3","g":"k"},{"m":415.8,"v":-5.318e-5,"t":"4","g":"k"},
{"m":426.28,"v":-4.576e-5,"t":"3","g":"k"},{"m":435.7,"v":-4.576e-5,"t":"2","g":"k"},{"m":451.99,"v":-4.576e-5,"t":"2","g":"k"},
{"m":447.46,"v":-3.435e-5,"t":"3","g":"k"},{"m":456.8,"v":-3.435e-5,"t":"2","g":"k"},{"m":472.62,"v":-3.435e-5,"t":"3","g":"k"}
],
"ttl":[
{"m":389.82,"v":1.0529e-4,"t":"100% Mouse","g":"k"},{"m":451.18,"v":1.0529e-4,"t":"Ab","g":"r"},{"m":466.38,"v":1.0529e-4,"t":"(520 keV Au","g":"k"},{"m":534.25,"v":1.0529e-4,"t":"projectile)","g":"k"}
],
"tsm":[
{"m":521.49,"v":1.089e-4,"t":"4+","g":"k"},{"m":521.49,"v":1.025e-4,"t":"400","g":"k"}
],
"arr":[
{"id":1,"m1":386.37,"v1":4.0e-5,"m2":393.89,"v2":2.398e-5},
{"id":2,"m1":401.14,"v1":3.444e-5,"m2":395.98,"v2":1.942e-5}
],
"box":[
{"m1":583.12,"m2":602.4,"v1":9.138e-5,"v2":7.385e-5},
{"m1":583.12,"m2":602.4,"v1":-7.496e-5,"v2":-8.832e-5}
],
"bt":[
{"m":592.63,"v":8.58e-5,"t":"a)"},{"m":592.63,"v":-8.164e-5,"t":"b)"}
],
"side":[
{"m":615.16,"v":5.2e-5,"t":"Inside the PDMS well","g":"k"},{"m":615.16,"v":-5.08e-5,"t":"Outside the PDMS well","g":"bl"}
],
"yt":[
{"m":326.02,"v":1.544e-5,"t":"I/N"},{"m":328.19,"v":2.851e-5,"t":"0"}
]
},
"layer":[
{"data":{"name":"sp"},
 "transform":[{"fold":["a","b"],"as":["s","val"]},{"filter":"isValid(datum.val)"}],
 "mark":{"type":"line","strokeWidth":2,"interpolate":"linear"},
 "encoding":{
  "x":{"field":"m","type":"quantitative","scale":{"domain":[370,610],"nice":false,"zero":false},
   "axis":{"orient":"bottom","values":[380,400,420,440,460,480,500,520,540,560,580,600],"tickSize":15,"tickWidth":2,"domainWidth":2.5,"labelFontSize":29,"labelPadding":10,"labelFlush":false,"labelOverlap":false,"title":"Mass (amu)","titleFontSize":37,"titleY":102,"titleBaseline":"alphabetic"}},
  "y":{"field":"val","type":"quantitative","scale":{"domain":[-0.0001,0.0001],"nice":false,"zero":false},
   "axis":{"orient":"left","values":[-0.0001,-0.00008,-0.00006,-0.00004,-0.00002,0,0.00002,0.00004,0.00006,0.00008,0.0001],"tickSize":13,"tickWidth":2,"domainWidth":2.5,"labelFontSize":29,"labelPadding":11,"labelExpr":"replace(format(datum.value,'.5f'),'\u2212','-')","labelFlush":false,"labelOverlap":false,"title":null}},
  "stroke":{"field":"s","type":"nominal","scale":{"domain":["a","b"],"range":["#000000","#0000ff"]},"legend":null}
 }},
{"data":{"name":"arr"},
 "mark":{"type":"rule","stroke":"#000000","strokeWidth":1},
 "encoding":{
  "x":{"field":"m1","type":"quantitative","scale":{"domain":[370,610],"nice":false,"zero":false},
   "axis":{"orient":"bottom","tickCount":240,"tickSize":5,"tickWidth":1,"labels":false,"domain":false,"title":null}},
  "y":{"field":"v1","type":"quantitative","scale":{"domain":[-0.0001,0.0001],"nice":false,"zero":false},
   "axis":{"orient":"left","values":[-0.00009,-0.00007,-0.00005,-0.00003,-0.00001,0.00001,0.00003,0.00005,0.00007,0.00009],"tickSize":8,"tickWidth":2,"labels":false,"domain":false,"title":null}},
  "x2":{"field":"m2"},"y2":{"field":"v2"}
 }},
{"data":{"name":"arr"},
 "transform":[{"filter":"datum.id == 1"}],
 "mark":{"type":"point","shape":"M0,0L-0.35,-1L0.35,-1Z","filled":true,"color":"#000000","opacity":1,"size":900,"angle":-25.7},
 "encoding":{
  "x":{"field":"m2","type":"quantitative","scale":{"domain":[370,610],"nice":false,"zero":false},
   "axis":{"orient":"bottom","values":[370,380,390,400,410,420,430,440,450,460,470,480,490,500,510,520,530,540,550,560,570,580,590,600,610],"tickSize":9,"tickWidth":1,"labels":false,"domain":false,"title":null}},
  "y":{"field":"v2","type":"quantitative","scale":{"domain":[-0.0001,0.0001],"nice":false,"zero":false},"axis":null}
 }},
{"data":{"name":"arr"},
 "transform":[{"filter":"datum.id == 2"}],
 "mark":{"type":"point","shape":"M0,0L-0.35,-1L0.35,-1Z","filled":true,"color":"#000000","opacity":1,"size":900,"angle":19.4},
 "encoding":{
  "x":{"field":"m2","type":"quantitative","scale":{"domain":[370,610],"nice":false,"zero":false},"axis":null},
  "y":{"field":"v2","type":"quantitative","scale":{"domain":[-0.0001,0.0001],"nice":false,"zero":false},"axis":null}
 }},
{"data":{"name":"box"},
 "mark":{"type":"rect","fillOpacity":0,"stroke":"#000000","strokeWidth":1},
 "encoding":{
  "x":{"field":"m1","type":"quantitative","scale":{"domain":[370,610],"nice":false,"zero":false},"axis":null},
  "x2":{"field":"m2"},
  "y":{"field":"v1","type":"quantitative","scale":{"domain":[-0.0001,0.0001],"nice":false,"zero":false},"axis":null},
  "y2":{"field":"v2"}
 }},
{"data":{"name":"bt"},
 "mark":{"type":"text","align":"center","baseline":"middle","fontSize":26,"color":"#000000"},
 "encoding":{
  "x":{"field":"m","type":"quantitative","scale":{"domain":[370,610],"nice":false,"zero":false},"axis":null},
  "y":{"field":"v","type":"quantitative","scale":{"domain":[-0.0001,0.0001],"nice":false,"zero":false},"axis":null},
  "text":{"field":"t"}
 }},
{"data":{"name":"lab"},
 "mark":{"type":"text","align":"left","baseline":"alphabetic","fontSize":29},
 "encoding":{
  "x":{"field":"m","type":"quantitative","scale":{"domain":[370,610],"nice":false,"zero":false},"axis":null},
  "y":{"field":"v","type":"quantitative","scale":{"domain":[-0.0001,0.0001],"nice":false,"zero":false},"axis":null},
  "text":{"field":"t"},
  "fill":{"field":"g","type":"nominal","scale":{"domain":["au","k","r","bl"],"range":["#7f6020","#000000","#ff0000","#0000ff"]},"legend":null}
 }},
{"data":{"name":"sub"},
 "mark":{"type":"text","align":"left","baseline":"alphabetic","fontSize":20},
 "encoding":{
  "x":{"field":"m","type":"quantitative","scale":{"domain":[370,610],"nice":false,"zero":false},"axis":null},
  "y":{"field":"v","type":"quantitative","scale":{"domain":[-0.0001,0.0001],"nice":false,"zero":false},"axis":null},
  "text":{"field":"t"},
  "fill":{"field":"g","type":"nominal","scale":{"domain":["au","k","r","bl"],"range":["#7f6020","#000000","#ff0000","#0000ff"]},"legend":null}
 }},
{"data":{"name":"ttl"},
 "mark":{"type":"text","align":"left","baseline":"alphabetic","fontSize":37},
 "encoding":{
  "x":{"field":"m","type":"quantitative","scale":{"domain":[370,610],"nice":false,"zero":false},"axis":null},
  "y":{"field":"v","type":"quantitative","scale":{"domain":[-0.0001,0.0001],"nice":false,"zero":false},"axis":null},
  "text":{"field":"t"},
  "fill":{"field":"g","type":"nominal","scale":{"domain":["au","k","r","bl"],"range":["#7f6020","#000000","#ff0000","#0000ff"]},"legend":null}
 }},
{"data":{"name":"tsm"},
 "mark":{"type":"text","align":"left","baseline":"alphabetic","fontSize":22,"color":"#000000"},
 "encoding":{
  "x":{"field":"m","type":"quantitative","scale":{"domain":[370,610],"nice":false,"zero":false},"axis":null},
  "y":{"field":"v","type":"quantitative","scale":{"domain":[-0.0001,0.0001],"nice":false,"zero":false},"axis":null},
  "text":{"field":"t"}
 }},
{"data":{"name":"side"},
 "mark":{"type":"text","align":"center","baseline":"middle","fontSize":32,"angle":90},
 "encoding":{
  "x":{"field":"m","type":"quantitative","scale":{"domain":[370,610],"nice":false,"zero":false},"axis":null},
  "y":{"field":"v","type":"quantitative","scale":{"domain":[-0.0001,0.0001],"nice":false,"zero":false},"axis":null},
  "text":{"field":"t"},
  "fill":{"field":"g","type":"nominal","scale":{"domain":["au","k","r","bl"],"range":["#7f6020","#000000","#ff0000","#0000ff"]},"legend":null}
 }},
{"data":{"name":"yt"},
 "transform":[{"filter":"datum.t == 'I/N'"}],
 "mark":{"type":"text","align":"left","baseline":"alphabetic","fontSize":36,"angle":270,"color":"#000000"},
 "encoding":{
  "x":{"field":"m","type":"quantitative","scale":{"domain":[370,610],"nice":false,"zero":false},"axis":null},
  "y":{"field":"v","type":"quantitative","scale":{"domain":[-0.0001,0.0001],"nice":false,"zero":false},"axis":null},
  "text":{"field":"t"}
 }},
{"data":{"name":"yt"},
 "transform":[{"filter":"datum.t == '0'"}],
 "mark":{"type":"text","align":"left","baseline":"alphabetic","fontSize":22,"angle":270,"color":"#000000"},
 "encoding":{
  "x":{"field":"m","type":"quantitative","scale":{"domain":[370,610],"nice":false,"zero":false},"axis":null},
  "y":{"field":"v","type":"quantitative","scale":{"domain":[-0.0001,0.0001],"nice":false,"zero":false},"axis":null},
  "text":{"field":"t"}
 }}
]
}
